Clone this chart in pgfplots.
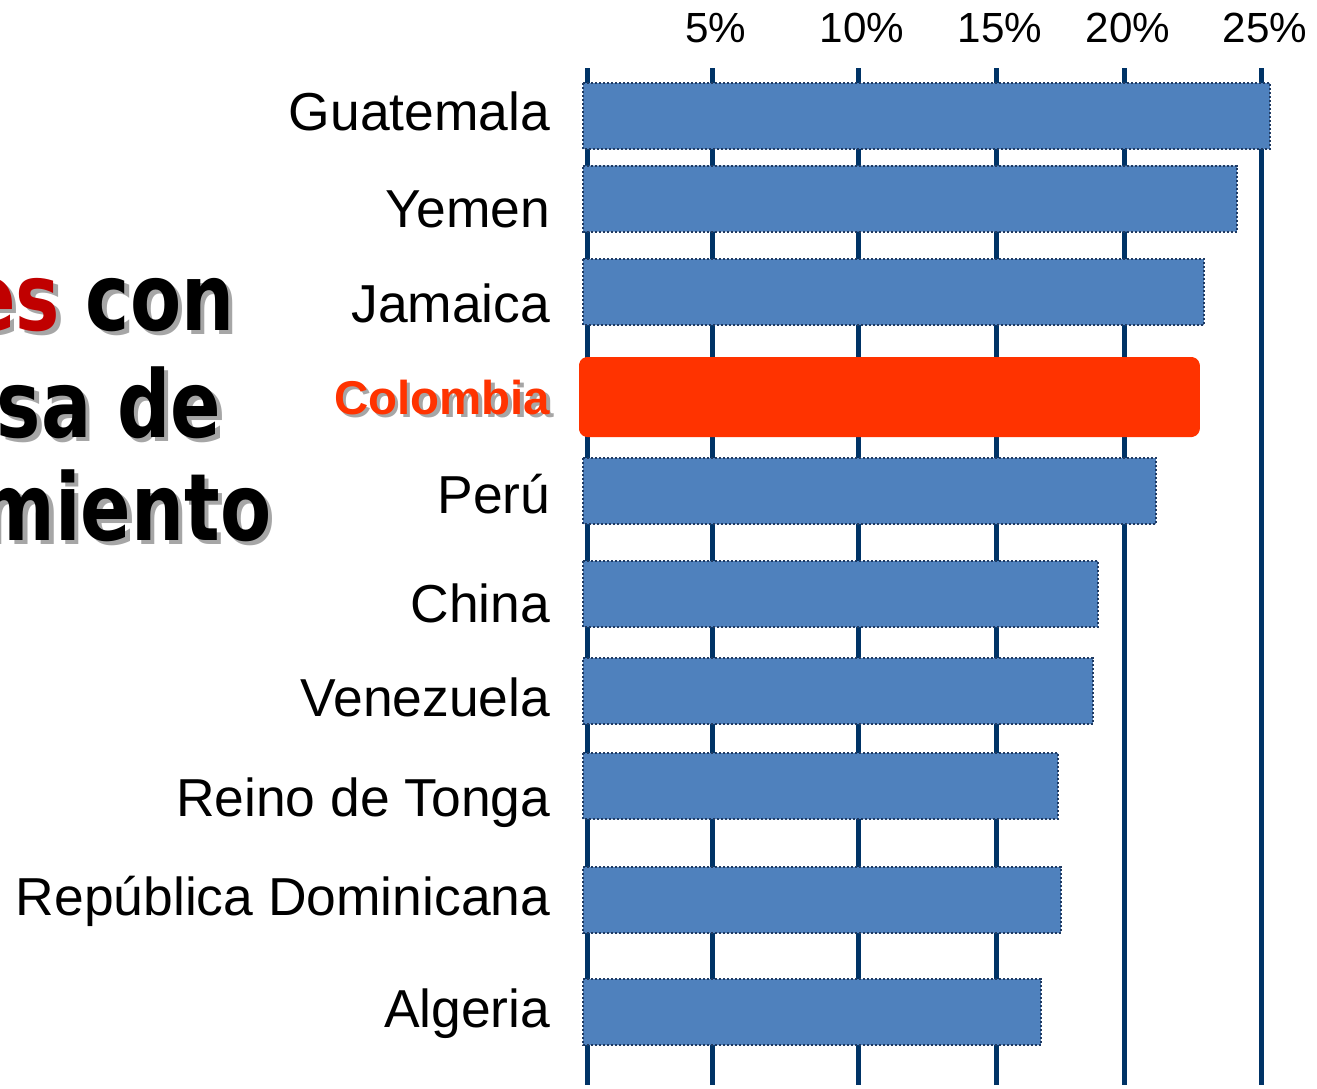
\documentclass[border=0pt]{standalone}
\usepackage{fontspec}
\setmainfont{Liberation Sans}
\newfontfamily\titlefont[FakeStretch=0.8]{DejaVu Sans}
\usepackage{pgfplots}
\pgfplotsset{compat=1.18}

\definecolor{barblue}{HTML}{4F81BD}
\definecolor{barline}{HTML}{1F3A62}
\definecolor{gridnavy}{HTML}{003366}
\definecolor{colred}{HTML}{FF3300}
\definecolor{titlered}{HTML}{C00000}

% one line of the clipped title on the left, with its grey shadow
\newcommand\titleline[4]{%
  \node[anchor=base east, inner sep=0pt, text=black!35,
        font=\titlefont\bfseries\fontsize{26.5}{30}\selectfont]
        at (#1+0.45mm,#2-0.45mm) {#3#4};
  \node[anchor=base east, inner sep=0pt, text=black,
        font=\titlefont\bfseries\fontsize{26.5}{30}\selectfont]
        at (#1,#2) {\textcolor{titlered}{#3}#4};
}

\begin{document}
\begin{tikzpicture}

\begin{axis}[
    at={(56mm,-6.8mm)}, anchor=north west,
    scale only axis,
    width=74mm, height=101.7mm,
    xmin=-0.852, xmax=26.56,
    ymin=68, ymax=1085,
    y dir=reverse,
    axis line style={draw=none},
    major tick length=0pt,
    xtick={0.15,4.81,10.22,15.33,20.07,25.15},
    xticklabels={,5\%,10\%,15\%,20\%,25\%},
    xticklabel pos=upper,
    xticklabel style={anchor=base, yshift=2.6mm, xshift=0.3mm,
        font=\fontsize{12}{14}\selectfont},
    xmajorgrids,
    major grid style={line width=0.5mm, color=gridnavy},
    % label baselines
    ytick={130,227,322,414,513,622,716,816,915,1027},
    yticklabels={Guatemala, Yemen, Jamaica,
        {\fontsize{13.5}{16}\selectfont\bfseries\rlap{\kern0.35mm\raisebox{-0.35mm}{\textcolor{black!35}{Colombia}}}\textcolor{colred}{Colombia}},
        Perú, China, Venezuela, Reino de Tonga, República Dominicana, Algeria},
    yticklabel style={anchor=base east, inner xsep=0pt, xshift=-0.9mm,
        font=\fontsize{15.2}{18}\selectfont},
    xbar,
]

% the nine blue bars
\addplot[xbar, bar shift=0pt, bar width=66,
    fill=barblue, draw=barline, line width=0.2mm,
    dash pattern=on 0.2mm off 0.2mm]
coordinates {
    (25.44,116) (24.22,198.5) (23.00,292)
    (21.22,491) (19.07,594) (18.89,691)
    (17.59,786) (17.70,900) (16.96,1012)
};

% Colombia, highlighted
\addplot[xbar, bar shift=0pt, bar width=72,
    fill=colred, draw=colred, line width=0.8mm,
    line join=round, rounded corners=0.4mm]
coordinates {(22.70,397)};

\end{axis}

\titleline{23.5mm}{-33.0mm}{Países}{ con}
\titleline{22.2mm}{-43.7mm}{}{mayor tasa de}
\titleline{27.2mm}{-54.0mm}{}{emprendimiento}

\pgfresetboundingbox
\useasboundingbox (0,0) rectangle (131.7mm,-108.8mm);
\end{tikzpicture}
\end{document}
